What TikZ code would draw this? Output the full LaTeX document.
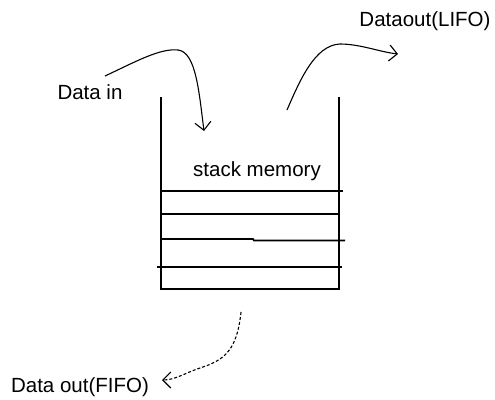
\documentclass[tikz,border=0pt]{standalone}
\usepackage{fontspec}
\setmainfont{Liberation Sans}
\usetikzlibrary{arrows.meta}

\begin{document}
\begin{tikzpicture}[x=1pt, y=-1pt,
    label text/.style={inner sep=0pt, font=\fontsize{20.5pt}{24pt}\selectfont},
    hand arrow/.style={line width=1.1pt, -{Straight Barb[length=8pt, width=16pt, line width=1.1pt]}},
    stack line/.style={line width=1.8pt}]
    \useasboundingbox (0,0) rectangle (495,399);

    % Labels
    \node[label text] (datain) at (90,92) {Data in};
    \node[label text] (dataout) at (425,21) {Dataout(LIFO)};
    \node[label text] (stacklabel) at (257,171) {stack memory};
    \node[label text] (fifoout) at (80,387) {Data out(FIFO)};

    % Draw the open stack walls
    \draw[stack line] (161,97) -- (161,289) -- (339,289) -- (339,97);

    % Draw the cells of the stack
    \draw[stack line] (160,191) -- (343,191);
    \draw[stack line] (161,214) -- (339,214);
    \draw[stack line] (161,239) -- (253,239) -- (254,240.5) -- (345,240.5);
    \draw[stack line] (157,267) -- (342,267);

    % Arrow ends
    \coordinate (instart) at (105,76);
    \coordinate (inend) at (204,131);
    \coordinate (lifostart) at (287,110);
    \coordinate (lifoend) at (398,54);
    \coordinate (fifostart) at (241,312);
    \coordinate (fifoend) at (162,380);

    % Data going in
    \draw[hand arrow] (instart) .. controls (135,62) and (160,48) .. (178,50)
        .. controls (196,52) and (199,92) .. (inend);

    % Data coming out on top
    \draw[hand arrow] (lifostart) .. controls (300,80) and (315,45) .. (340,44)
        .. controls (360,44) and (380,52) .. (lifoend);

    % Data coming out at the bottom
    \draw[hand arrow, dash pattern=on 3pt off 2pt] (fifostart) .. controls (237,350) and (225,360) .. (200,368)
        .. controls (185,373) and (175,380) .. (fifoend);

\end{tikzpicture}
\end{document}
